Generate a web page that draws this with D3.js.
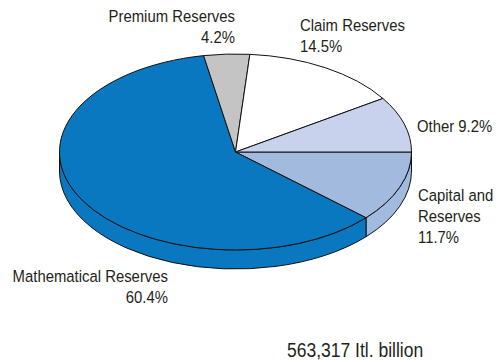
<!DOCTYPE html>
<html>
<head>
<meta charset="utf-8">
<script src="https://cdn.jsdelivr.net/npm/d3@7/dist/d3.min.js"></script>
<style>
  html, body { margin: 0; padding: 0; background: #fff; }
  svg text { font-family: "Liberation Sans", Arial, Helvetica, sans-serif; font-size: 17px; fill: #231f20; }
</style>
</head>
<body>
<svg id="chart" width="497" height="362"></svg>
<script>
// Slices listed clockwise from 3 o'clock
const categories = ["Capital and Reserves", "Mathematical Reserves", "Premium Reserves", "Claim Reserves", "Other"];
const shares = [11.7, 60.4, 4.2, 14.5, 9.2];
const colors = ["#a3badf", "#0a78c0", "#c4c4c4", "#ffffff", "#c8d2ec"];
const totalLabel = "563,317 Itl. billion";

const svg = d3.select("#chart");
const cx = 235.5, cy = 152, rx = 176, ry = 98, depth = 19;
const condense = 0.875; // narrow type: horizontal squeeze of the text

const pie = d3.pie().sort(null).value(d => d.value)
  .startAngle(Math.PI / 2).endAngle(Math.PI / 2 + 2 * Math.PI);
const arcs = pie(categories.map((c, i) => ({ name: c, value: shares[i], color: colors[i] })));

// point on the ellipse for a d3 angle (0 = 12 o'clock, clockwise)
const px = a => cx + rx * Math.sin(a);
const py = (a, dy = 0) => cy - ry * Math.cos(a) + dy;

// side walls: only the front half (3 o'clock through 6 to 9 o'clock) is visible
const frontStart = Math.PI / 2, frontEnd = 3 * Math.PI / 2;
const sides = arcs.map(d => {
  const s = Math.max(d.startAngle, frontStart), e = Math.min(d.endAngle, frontEnd);
  return s < e ? { s, e, color: d.data.color } : null;
}).filter(Boolean);

svg.append("g").selectAll("path").data(sides).join("path")
  .attr("d", d => {
    const large = (d.e - d.s) > Math.PI ? 1 : 0;
    return `M${px(d.s)},${py(d.s)}` +
      `A${rx},${ry} 0 ${large} 1 ${px(d.e)},${py(d.e)}` +
      `L${px(d.e)},${py(d.e, depth)}` +
      `A${rx},${ry} 0 ${large} 0 ${px(d.s)},${py(d.s, depth)}Z`;
  })
  .attr("fill", d => d.color)
  .attr("stroke", "#111")
  .attr("stroke-width", 1)
  .attr("stroke-linejoin", "round");

// top faces
svg.append("g").selectAll("path").data(arcs).join("path")
  .attr("d", d => {
    const large = (d.endAngle - d.startAngle) > Math.PI ? 1 : 0;
    return `M${cx},${cy}L${px(d.startAngle)},${py(d.startAngle)}` +
      `A${rx},${ry} 0 ${large} 1 ${px(d.endAngle)},${py(d.endAngle)}Z`;
  })
  .attr("fill", d => d.data.color)
  .attr("stroke", "#111")
  .attr("stroke-width", 1)
  .attr("stroke-linejoin", "round");

// labels
const pct = v => d3.format(".1f")(v) + "%";
const labels = [
  { lines: ["Capital and", "Reserves", pct(shares[0])], x: 418, y: 201, anchor: "start" },
  { lines: ["Mathematical Reserves", pct(shares[1])], x: 168, y: 282, anchor: "end" },
  { lines: ["Premium Reserves", pct(shares[2])], x: 235, y: 22, anchor: "end" },
  { lines: ["Claim Reserves", pct(shares[3])], x: 300, y: 31, anchor: "start" },
  { lines: ["Other " + pct(shares[4])], x: 417, y: 132, anchor: "start" }
];
const lineH = 21;
const lg = svg.append("g");
labels.forEach(l => {
  const t = lg.append("text")
    .attr("transform", `translate(${l.x},${l.y}) scale(${condense},1)`)
    .attr("text-anchor", l.anchor);
  l.lines.forEach((s, i) => t.append("tspan").attr("x", 0).attr("dy", i ? lineH : 0).text(s));
});

svg.append("text")
  .attr("transform", `translate(287,357) scale(${condense},1)`)
  .style("font-size", "20px")
  .text(totalLabel);
</script>
</body>
</html>
